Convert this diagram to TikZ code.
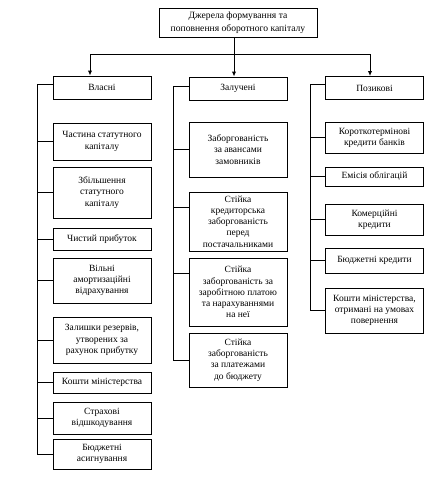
\documentclass[tikz,border=0pt]{standalone}
\usepackage{fontspec}
\setmainfont{Liberation Serif}
\usetikzlibrary{arrows.meta}
\begin{document}
\begin{tikzpicture}[x=1pt,y=-1pt,
  box/.style={draw, line width=1pt, align=center, inner sep=1pt, minimum width=98pt,
    font=\fontsize{9.5}{11.2}\selectfont},
  ln/.style={line width=1pt},
  arr/.style={line width=1pt,-{Latex[length=5pt,width=4.5pt]}}]
\useasboundingbox (0,0) rectangle (429,483);
% top level
\node[box, minimum width=158pt, minimum height=29pt, font=\fontsize{9.6}{13}\selectfont] (T) at (238,22.5)
  {Джерела формування та\\поповнення оборотного капіталу};
\node[box, minimum height=23pt] (V) at (102,87.5) {Власні};
\node[box, minimum height=23pt] (Z) at (238,88.5) {Залучені};
\node[box, minimum height=23pt] (P) at (374.5,88) {Позикові};
% left column
\node[box, minimum height=37pt] (L1) at (102,141.5) {Частина статутного\\капіталу};
\node[box, minimum height=51pt] (L2) at (102,192.5) {Збільшення\\статутного\\капіталу};
\node[box, minimum height=22pt] (L3) at (102,239) {Чистий прибуток};
\node[box, minimum height=45pt] (L4) at (102,280.5) {Вільні\\амортизаційні\\відрахування};
\node[box, minimum height=46pt] (L5) at (102,340) {Залишки резервів,\\утворених за\\рахунок прибутку};
\node[box, minimum height=21pt] (L6) at (102,382.5) {Кошти міністерства};
\node[box, minimum height=32pt] (L7) at (102,418) {Страхові\\відшкодування};
\node[box, minimum height=30pt] (L8) at (102,454) {Бюджетні\\асигнування};
% middle column
\node[box, minimum height=55pt] (M1) at (238,149.5) {Заборгованість\\за авансами\\замовників};
\node[box, minimum height=59pt] (M2) at (238,221.5) {Стійка\\кредиторська\\заборгованість\\перед\\постачальниками};
\node[box, minimum height=68pt] (M3) at (238,292) {Стійка\\заборгованість за\\заробітною платою\\та нарахуваннями\\на неї};
\node[box, minimum height=54pt] (M4) at (238,360) {Стійка\\заборгованість\\за платежами\\до бюджету};
% right column
\node[box, minimum height=31pt] (R1) at (374.5,137.5) {Короткотермінові\\кредити банків};
\node[box, minimum height=19pt] (R2) at (374.5,176.5) {Емісія облігацій};
\node[box, minimum height=31pt] (R3) at (374.5,219.5) {Комерційні\\кредити};
\node[box, minimum height=25pt] (R4) at (374.5,260.5) {Бюджетні кредити};
\node[box, minimum height=45pt] (R5) at (374.5,310.5) {Кошти міністерства,\\отримані на умовах\\повернення};
% top connectors
\coordinate (bl) at (90,54);
\coordinate (br) at (370,54);
\draw[arr] ([xshift=-4pt]T.south) -- ([xshift=-4pt]Z.north);
\draw[ln] (bl) -- (br);
\draw[arr] (bl) -- (bl |- V.north);
\draw[arr] (br) -- (br |- P.north);
% spines
\coordinate (sl) at (37,0);
\coordinate (sm) at (173,0);
\coordinate (sr) at (310,0);
\draw[ln] ([yshift=3pt]V.west) -| (sl |- L8.west) -- (L8.west);
\foreach \n in {L1,L2,L3,L4,L5,L6,L7} \draw[ln] (sl |- \n.west) -- (\n.west);
\draw[ln] ([yshift=2pt]Z.west) -| (sm |- M4.west) -- (M4.west);
\draw[ln] (sm |- M1.west) -- (M1.west);
\draw[ln] (sm |- 0,207) -- (M2.west |- 0,207);
\draw[ln] (sm |- 0,273) -- (M3.west |- 0,273);
\draw[ln] ([yshift=4pt]P.west) -| (sr |- R5.west) -- (R5.west);
\foreach \n in {R1,R2,R3,R4} \draw[ln] (sr |- \n.west) -- (\n.west);
\end{tikzpicture}
\end{document}
